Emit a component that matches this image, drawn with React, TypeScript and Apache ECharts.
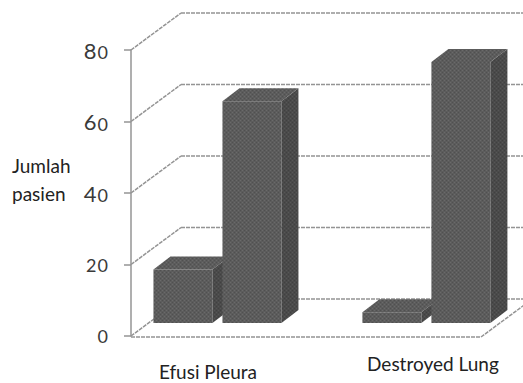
import React, { useEffect, useRef } from "react";
import * as echarts from "echarts";

const categories = ["Efusi Pleura", "Destroyed Lung"];
const seriesA = [15, 3];
const seriesB = [62, 73];
const yTicks = [0, 20, 40, 60, 80];
const yName = "Jumlah\npasien";

const WALL_DX = 50;
const WALL_DY = -37;
const ROW_DX = 17.5;
const ROW_DY = -13;
const BAR_W = 59;
const BAR_DX = 17;
const BAR_DY = -13;
const BAR_STEP = 69;
const GROUP_OFFSET = -64;
const GRID_COLOR = "#949494";

// old-style figures: 0, 1, 2 sit at x-height
const oldStyle = (v: number) =>
  String(v)
    .split("")
    .map((ch) => ("012".includes(ch) ? `{s|${ch}}` : `{n|${ch}}`))
    .join("");

function makeTexture(base: string, light: string, dark: string): string {
  const c = document.createElement("canvas");
  c.width = 4;
  c.height = 4;
  const ctx = c.getContext("2d");
  if (!ctx) return "";
  ctx.fillStyle = base;
  ctx.fillRect(0, 0, 4, 4);
  ctx.fillStyle = light;
  ctx.fillRect(0, 0, 1, 1);
  ctx.fillRect(2, 2, 1, 1);
  ctx.fillStyle = dark;
  ctx.fillRect(2, 0, 1, 1);
  ctx.fillRect(0, 2, 1, 1);
  return c.toDataURL();
}

export default function App() {
  const ref = useRef<HTMLDivElement>(null);
  useEffect(() => {
    const chart = echarts.init(ref.current!, null, { renderer: "svg" });
    const barData: number[][] = [];
    categories.forEach((_, i) => {
      barData.push([i, seriesA[i], 0]);
      barData.push([i, seriesB[i], 1]);
    });

    const frontTex = makeTexture("#5c5c5c", "#6a6a6a", "#505050");
    const sideTex = makeTexture("#4a4a4a", "#565656", "#404040");
    const fill = (tex: string, fallback: string) =>
      tex ? ({ image: tex, repeat: "repeat" } as any) : fallback;

    const gridRender = (params: any, api: any) => {
      const cs = params.coordSys;
      const v = api.value(1);
      const y = api.coord([0, v])[1];
      const left = cs.x;
      const right = cs.x + cs.width;
      const ls = { stroke: GRID_COLOR, lineWidth: 1.5, lineDash: [4, 1] };
      const children: any[] = [
        { type: "line", shape: { x1: left, y1: y, x2: left + WALL_DX, y2: y + WALL_DY }, style: ls },
        { type: "line", shape: { x1: left + WALL_DX, y1: y + WALL_DY, x2: right + WALL_DX + 20, y2: y + WALL_DY }, style: ls },
      ];
      if (v === 0) {
        children.push({ type: "line", shape: { x1: left, y1: y + 1, x2: right, y2: y + 1 }, style: ls });
        children.push({ type: "line", shape: { x1: right, y1: y + 1, x2: right + WALL_DX, y2: y + 1 + WALL_DY }, style: ls });
      }
      return { type: "group", children };
    };

    const barRender = (params: any, api: any) => {
      const cat = api.value(0);
      const val = api.value(1);
      const s = api.value(2);
      const base = api.coord([cat, 0]);
      const top = api.coord([cat, val]);
      const x0 = base[0] + ROW_DX + GROUP_OFFSET + s * BAR_STEP;
      const x1 = x0 + BAR_W;
      const yb = base[1] + ROW_DY;
      const yt = top[1] + ROW_DY;
      return {
        type: "group",
        children: [
          { type: "rect", shape: { x: x0, y: yt, width: BAR_W, height: yb - yt }, style: { fill: fill(frontTex, "#5c5c5c") } },
          {
            type: "polygon",
            shape: { points: [[x1, yt], [x1 + BAR_DX, yt + BAR_DY], [x1 + BAR_DX, yb + BAR_DY], [x1, yb]] },
            style: { fill: fill(sideTex, "#4a4a4a") },
          },
          {
            type: "polygon",
            shape: { points: [[x0, yt], [x0 + BAR_DX, yt + BAR_DY], [x1 + BAR_DX, yt + BAR_DY], [x1, yt]] },
            style: { fill: fill(frontTex, "#5c5c5c") },
          },
        ],
      };
    };

    const labelRender = (params: any, api: any) => {
      const cs = params.coordSys;
      const i = api.value(0);
      const p = api.coord([i, 0]);
      return {
        type: "text",
        x: p[0] + 8 + i * 16,
        y: cs.y + cs.height + 35 - i * 8,
        style: {
          text: categories[i],
          fontFamily: "Lato",
          fontSize: 19,
          fill: "#222",
          align: "center",
          verticalAlign: "middle",
        },
      };
    };

    chart.setOption({
      animation: false,
      backgroundColor: "#ffffff",
      grid: { left: 131, right: 42, top: 50, bottom: 47 },
      xAxis: { type: "value", min: -0.33, max: 1.345, show: false },
      yAxis: {
        type: "value",
        min: 0,
        max: 80,
        interval: 20,
        axisLine: { show: true, onZero: false, lineStyle: { color: GRID_COLOR, width: 1.5 } },
        axisTick: { show: true, length: 7, lineStyle: { color: GRID_COLOR, width: 1.5 } },
        splitLine: { show: false },
        axisLabel: {
          margin: 23,
          color: "#3a3a3a",
          fontFamily: "Lato",
          formatter: (v: number) => oldStyle(v),
          rich: {
            n: { fontSize: 22, lineHeight: 22, fontFamily: "Lato", color: "#3a3a3a", verticalAlign: "bottom" },
            s: { fontSize: 18, lineHeight: 18, fontFamily: "Lato", color: "#3a3a3a", verticalAlign: "bottom", padding: [0, 0, 0, 1] },
          },
        },
      },
      graphic: [
        {
          type: "text",
          left: 12,
          top: 151,
          style: { text: yName, fontFamily: "Lato", fontSize: 19, lineHeight: 28, fill: "#222" },
        },
      ],
      series: [
        { type: "custom", data: yTicks.map((v) => [0, v]), renderItem: gridRender, clip: false, z: 1, silent: true },
        { type: "custom", data: barData, renderItem: barRender, clip: false, z: 2, silent: true },
        { type: "custom", data: categories.map((_, i) => [i, 0]), renderItem: labelRender, clip: false, z: 3, silent: true },
      ],
    });
    return () => chart.dispose();
  }, []);
  return (
    <>
      <style>{`body{margin:0}`}</style>
      <div ref={ref} style={{ position: "absolute", left: 0, top: 0, width: 523, height: 383, background: "#fff" }} />
    </>
  );
}
